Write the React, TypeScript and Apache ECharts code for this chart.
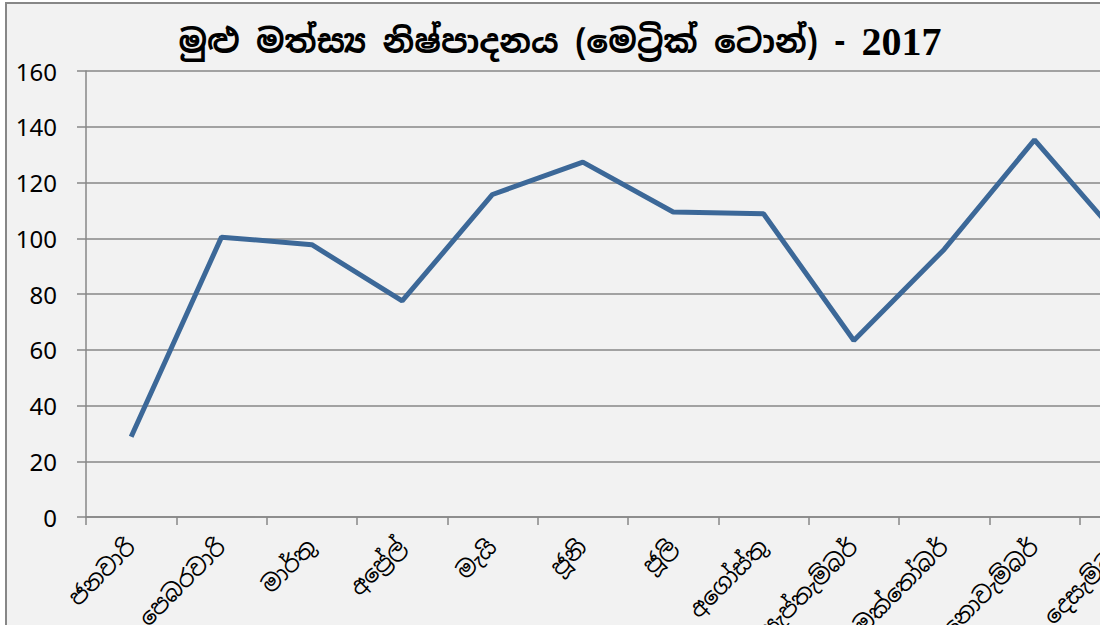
import React, { useEffect, useRef } from "react";
import * as echarts from "echarts";

const titleMain = "මුළු මත්ස්‍ය නිෂ්පාදනය (මෙට්‍රික් ටොන්) - ";
const titleYear = "2017";
const months = [
  "ජනවාරි",
  "පෙබරවාරි",
  "මාර්තු",
  "අප්‍රේල්",
  "මැයි",
  "ජූනි",
  "ජූලි",
  "අගෝස්තු",
  "සැප්තැම්බර්",
  "ඔක්තෝබර්",
  "නොවැම්බර්",
  "දෙසැම්බර්",
];
const production = [28.8, 100.4, 97.7, 77.5, 115.7, 127.3, 109.4, 108.8, 63.3, 96, 135.3, 98];
const yMin = 0;
const yMax = 160;
const yStep = 20;

export default function App() {
  const ref = useRef<HTMLDivElement>(null);
  useEffect(() => {
    if (!ref.current) return;
    const chart = echarts.init(ref.current, undefined, { renderer: "svg" });
    chart.setOption({
      animation: false,
      backgroundColor: "#f2f2f2",
      graphic: [
        {
          type: "text",
          x: 553,
          y: 37,
          style: {
            text: "{a|" + titleMain + "}{b|" + titleYear + "}",
            textAlign: "center",
            textVerticalAlign: "middle",
            rich: {
              a: {
                fontFamily: "'Noto Sans Sinhala', 'Iskoola Pota', serif",
                fontWeight: "bold",
                fontSize: 32.5,
                fill: "#000",
                color: "#000",
              },
              b: {
                fontFamily: "'Liberation Serif', 'Times New Roman', serif",
                fontWeight: "bold",
                fontSize: 40,
                fill: "#000",
                color: "#000",
              },
            },
          },
        },
      ],
      grid: { left: 79, top: 67, right: 37, bottom: 187 },
      xAxis: {
        type: "category",
        data: months,
        boundaryGap: true,
        axisLine: { show: true, lineStyle: { color: "#878787", width: 1.5 } },
        axisTick: { show: true, length: 8, lineStyle: { color: "#878787", width: 1.5 } },
        axisLabel: {
          rotate: 45,
          margin: 26,
          fontSize: 23,
          color: "#000",
          fontFamily: "'Noto Sans Sinhala', 'Iskoola Pota', sans-serif",
          interval: 0,
        },
      },
      yAxis: {
        type: "value",
        min: yMin,
        max: yMax,
        interval: yStep,
        axisLine: { show: true, lineStyle: { color: "#878787", width: 1.5 } },
        axisTick: { show: true, length: 9, lineStyle: { color: "#878787", width: 1.5 } },
        axisLabel: { margin: 29, fontSize: 24, color: "#000", fontFamily: "'Noto Sans', sans-serif" },
        splitLine: { show: true, lineStyle: { color: "#878787", width: 1.5 } },
      },
      series: [
        {
          type: "line",
          data: production,
          symbol: "none",
          lineStyle: { color: "#3c6898", width: 5 },
        },
      ],
    });
    return () => chart.dispose();
  }, []);
  return (
    <div
      style={{
        position: "fixed",
        left: 0,
        top: 0,
        width: 1100,
        height: 625,
        overflow: "hidden",
        background: "#fff",
      }}
    >
      <div
        style={{
          position: "absolute",
          left: 5,
          top: 2,
          border: "2px solid #878787",
          width: 1200,
          height: 700,
        }}
      >
        <div ref={ref} style={{ width: 1200, height: 700 }} />
      </div>
    </div>
  );
}
